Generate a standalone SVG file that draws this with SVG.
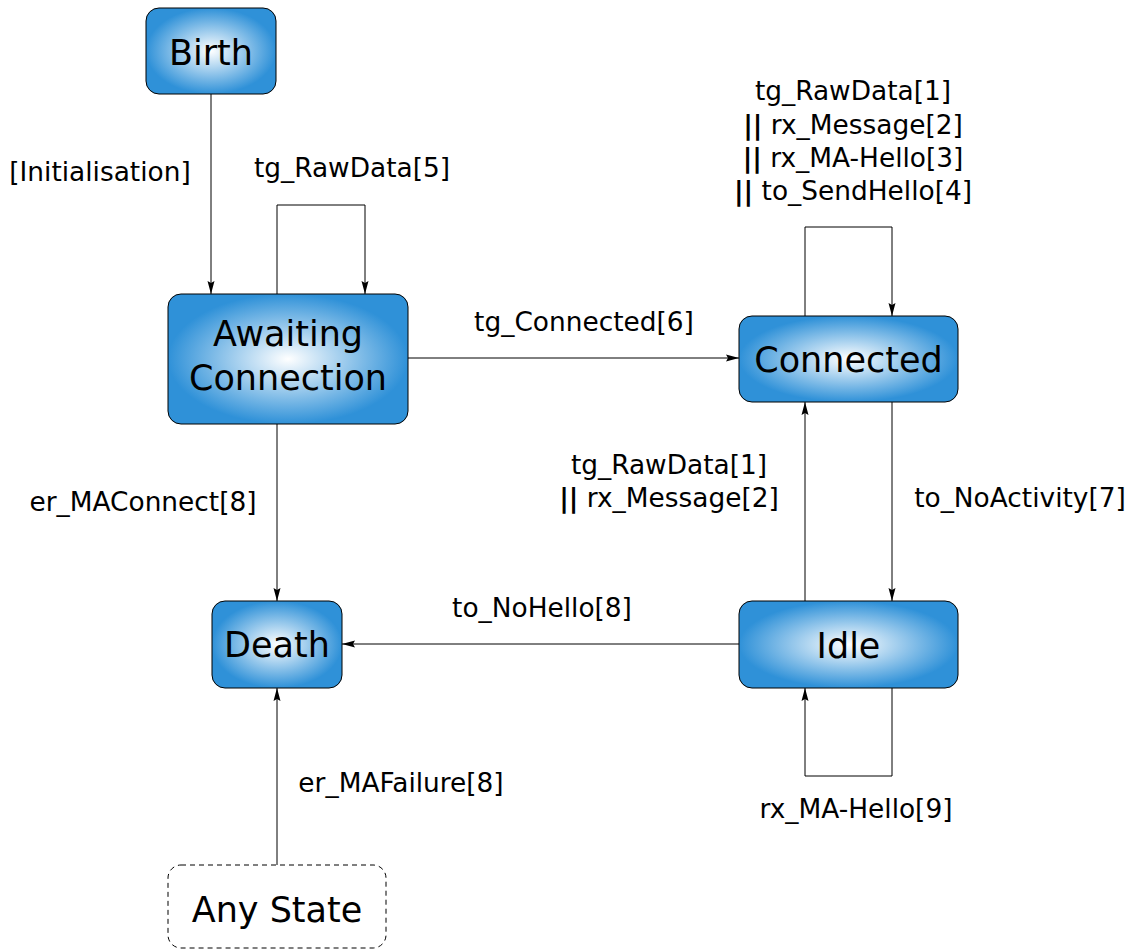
<svg xmlns="http://www.w3.org/2000/svg" width="1134" height="951" viewBox="0 0 1134 951">
<style>
.node{stroke:#000;stroke-width:1;fill:url(#g)}
.nt{font-family:"DejaVu Sans",sans-serif;font-size:35px;text-anchor:middle;fill:#000}
.lb{font-family:"DejaVu Sans",sans-serif;font-size:26.4px;fill:#000;text-anchor:middle}
.c{fill:none;stroke:#000;stroke-width:1}
.b{font-weight:bold}
</style>
<defs>
<radialGradient id="g" cx="0.5" cy="0.5" r="0.5">
<stop offset="0" stop-color="#ffffff"/>
<stop offset="1" stop-color="#2f91d8"/>
</radialGradient>
<marker id="a" markerWidth="14" markerHeight="8" refX="13" refY="4" orient="auto" markerUnits="userSpaceOnUse">
<path d="M0,0.5 L13,4 L0,7.5 L2,4 Z" fill="#000"/>
</marker>
</defs>
<rect width="1134" height="951" fill="#fff"/>
<g id="connectors">
<path class="c" d="M211,94 V294" marker-end="url(#a)"/>
<path class="c" d="M277,294 V205 H365 V294" marker-end="url(#a)"/>
<path class="c" d="M408,358 H739" marker-end="url(#a)"/>
<path class="c" d="M805,316 V227 H892 V316" marker-end="url(#a)"/>
<path class="c" d="M892,402 V601" marker-end="url(#a)"/>
<path class="c" d="M805,601 V402" marker-end="url(#a)"/>
<path class="c" d="M739,644 H342" marker-end="url(#a)"/>
<path class="c" d="M277,424 V601" marker-end="url(#a)"/>
<path class="c" d="M892,688 V776 H805 V688" marker-end="url(#a)"/>
<path class="c" d="M277,865 V688" marker-end="url(#a)"/>
</g>
<g id="labels">
<text class="lb" x="100" y="181">[Initialisation]</text>
<text class="lb" x="352" y="177">tg_RawData[5]</text>
<text class="lb" x="584" y="331">tg_Connected[6]</text>
<text class="lb" x="853" y="100">tg_RawData[1]</text>
<text class="lb" x="853" y="134"><tspan class="b">||</tspan> rx_Message[2]</text>
<text class="lb" x="853" y="167"><tspan class="b">||</tspan> rx_MA-Hello[3]</text>
<text class="lb" x="853" y="200"><tspan class="b">||</tspan> to_SendHello[4]</text>
<text class="lb" x="669" y="474">tg_RawData[1]</text>
<text class="lb" x="669" y="507"><tspan class="b">||</tspan> rx_Message[2]</text>
<text class="lb" x="1020" y="507">to_NoActivity[7]</text>
<text class="lb" x="143" y="511">er_MAConnect[8]</text>
<text class="lb" x="542" y="617">to_NoHello[8]</text>
<text class="lb" x="401" y="792">er_MAFailure[8]</text>
<text class="lb" x="856" y="818">rx_MA-Hello[9]</text>
</g>
<g id="birth">
<rect class="node" x="146" y="8" width="130" height="86" rx="13"/>
<text class="nt" x="211" y="65">Birth</text>
</g>
<g id="awaiting">
<rect class="node" x="168" y="294" width="240" height="130" rx="13"/>
<text class="nt" x="288" y="346">Awaiting</text>
<text class="nt" x="288" y="390">Connection</text>
</g>
<g id="connected">
<rect class="node" x="739" y="316" width="219" height="86" rx="13"/>
<text class="nt" x="848.5" y="372">Connected</text>
</g>
<g id="idle">
<rect class="node" x="739" y="601" width="219" height="87" rx="13"/>
<text class="nt" x="848.5" y="658">Idle</text>
</g>
<g id="death">
<rect class="node" x="212" y="601" width="130" height="87" rx="13"/>
<text class="nt" x="277" y="657">Death</text>
</g>
<g id="anystate">
<rect x="168" y="865" width="218" height="83" rx="13" fill="#fff" stroke="#000" stroke-width="1" stroke-dasharray="5,4"/>
<text class="nt" x="277" y="922">Any State</text>
</g>
</svg>
